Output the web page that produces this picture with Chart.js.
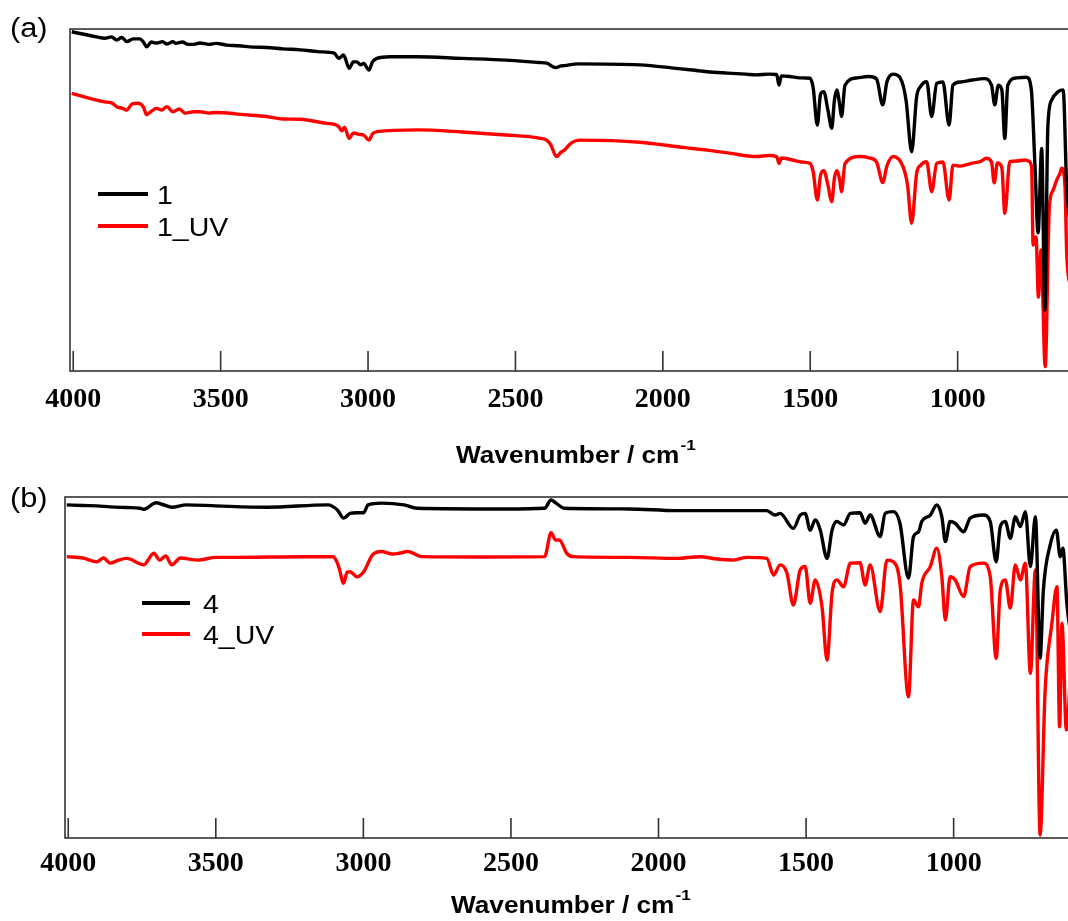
<!DOCTYPE html>
<html>
<head>
<meta charset="utf-8">
<script src="https://cdn.jsdelivr.net/npm/chart.js@4.4.0/dist/chart.umd.min.js"></script>
<style>
  html, body { margin: 0; padding: 0; background: #fff; overflow: hidden; }
  #wrap { position: relative; width: 1068px; height: 921px; overflow: hidden; }
  canvas { position: absolute; left: 0; top: 0; }
  .txt { position: absolute; font-family: "Liberation Sans", Arial, sans-serif; color: #000;
         white-space: nowrap; transform-origin: 0 0; transform: scaleX(1.14); }
  .panel { font-size: 27px; line-height: 27px; }
  .axt { font-size: 23px; line-height: 23px; font-weight: bold; }
  .axt span { font-size: 15px; position: relative; top: -13px; margin-left: 1px; }
  .leg { font-size: 25px; line-height: 25px; }
  .sw { position: absolute; height: 4px; }
</style>
</head>
<body>
<div id="wrap">
  <canvas id="chartA" width="1120" height="921"></canvas>
  <canvas id="chartB" width="1120" height="921"></canvas>

  <div class="txt panel" style="left:10px; top:15px;">(a)</div>
  <div class="txt panel" style="left:10px; top:485px;">(b)</div>

  <div class="txt axt" style="left:456px; top:444px;">Wavenumber / cm<span>-1</span></div>
  <div class="txt axt" style="left:451px; top:894px;">Wavenumber / cm<span>-1</span></div>

  <div id="legA"></div>
  <div id="legB"></div>
</div>

<script>
// x tick labels (wavenumber, cm-1)
var xTicks = [4000, 3500, 3000, 2500, 2000, 1500, 1000];

// (a) sample 1
var wn1 = [4005, 3921, 3894, 3870, 3853, 3835, 3818, 3797, 3774, 3762, 3751, 3735, 3717, 3697, 3682, 3662, 3652, 3630, 3610, 3591,
  3570, 3540, 3516, 3480, 3439, 3389, 3344, 3289, 3231, 3170, 3136, 3114, 3099, 3083, 3064, 3050, 3038, 3025, 3015, 2997,
  2985, 2970, 2926, 2834, 2682, 2532, 2420, 2394, 2364, 2345, 2334, 2288, 2078, 1956, 1900, 1850, 1780, 1720, 1684, 1640,
  1614, 1606, 1598, 1560, 1530, 1501, 1490, 1476, 1465, 1454, 1440, 1427, 1418, 1410, 1400, 1394, 1382, 1340, 1300, 1275,
  1254, 1240, 1219, 1195, 1175, 1156, 1139, 1125, 1105, 1088, 1071, 1050, 1029, 1016, 990, 950, 910, 885, 874, 862,
  850, 840, 830, 800, 766, 750, 738, 727, 715, 704, 694, 681, 659, 642, 630, 615];
var t1 = [99.2, 97.7, 97.3, 97.7, 96.8, 97.5, 96.3, 97.1, 97.1, 96.2, 94.8, 96.2, 95.9, 96.3, 95.6, 96.3, 95.8, 96.2, 95.5, 95.5,
  95.9, 95.5, 95.8, 95.3, 95.1, 94.7, 94.6, 94.2, 93.9, 93.4, 93.2, 92.9, 91.4, 92.4, 88.5, 90.4, 90.4, 89.5, 89.9, 88.0,
  90.4, 91.4, 91.9, 91.9, 91.4, 90.9, 90.2, 90.0, 88.7, 89.2, 89.3, 89.8, 89.5, 88.5, 88.0, 87.5, 87.1, 86.8, 86.6, 86.8,
  86.7, 83.6, 86.3, 86.0, 85.7, 85.6, 82.8, 71.9, 81.0, 81.7, 76.3, 71.0, 79.2, 82.2, 77.8, 74.4, 83.6, 85.7, 86.1, 85.4,
  77.8, 84.5, 86.8, 85.7, 79.2, 64.1, 80.2, 83.3, 84.6, 74.4, 84.1, 84.5, 71.9, 83.6, 84.5, 85.1, 85.5, 83.6, 77.8, 83.6,
  82.2, 68.0, 83.6, 85.7, 85.9, 82.2, 60.7, 40.4, 65.1, 17.8, 71.4, 79.2, 81.7, 82.2, 53.9, 41.2];

// (a) sample 1 after UV
var wn1uv = [4005, 3921, 3894, 3870, 3853, 3833, 3819, 3800, 3780, 3762, 3751, 3743, 3717, 3700, 3682, 3662, 3640, 3620, 3591, 3570,
  3540, 3516, 3458, 3439, 3344, 3289, 3231, 3140, 3114, 3099, 3089, 3080, 3064, 3050, 3031, 3015, 2997, 2985, 2970, 2834,
  2682, 2532, 2420, 2394, 2380, 2361, 2345, 2334, 2310, 2281, 2078, 1925, 1850, 1774, 1684, 1640, 1614, 1606, 1598, 1560,
  1530, 1501, 1490, 1476, 1465, 1454, 1440, 1427, 1418, 1410, 1400, 1394, 1382, 1331, 1300, 1275, 1254, 1240, 1219, 1185,
  1170, 1156, 1139, 1125, 1105, 1088, 1071, 1050, 1029, 1016, 992, 950, 924, 902, 885, 876, 865, 850, 840, 823,
  800, 772, 760, 749, 744, 734, 726, 717, 703, 689, 676, 664, 653, 647, 636, 630, 615];
var t1uv = [81.2, 79.2, 78.7, 78.4, 77.3, 76.8, 76.3, 78.1, 78.3, 77.2, 74.9, 75.4, 76.8, 76.3, 77.3, 75.8, 76.6, 75.4, 75.8, 75.8,
  75.4, 75.6, 75.3, 75.1, 74.4, 73.7, 73.6, 72.4, 72.1, 71.4, 70.2, 71.3, 68.0, 69.6, 69.2, 69.0, 67.5, 69.3, 70.0, 70.5,
  69.9, 69.0, 68.1, 67.5, 66.1, 62.7, 64.0, 64.6, 66.7, 67.5, 66.9, 65.3, 64.6, 63.7, 62.7, 63.0, 62.7, 60.7, 62.3, 61.7,
  61.1, 60.7, 58.2, 50.0, 57.3, 58.6, 54.4, 49.5, 56.4, 58.6, 55.8, 52.4, 60.7, 62.7, 62.3, 61.1, 55.1, 59.9, 62.7, 59.7,
  54.4, 43.2, 57.8, 60.2, 61.2, 52.4, 60.7, 61.1, 50.0, 60.2, 59.9, 60.8, 61.2, 62.2, 61.1, 55.0, 60.8, 59.4, 46.1, 61.2,
  61.4, 61.7, 61.4, 59.7, 36.8, 39.2, 21.6, 35.4, 1.3, 47.7, 52.9, 55.8, 57.8, 59.3, 54.4, 34.4, 23.7];

// (b) sample 4
var wn4 = [4005, 3950, 3903, 3858, 3802, 3757, 3745, 3712, 3702, 3680, 3649, 3600, 3500, 3327, 3120, 3088, 3067, 3045, 3022, 2999,
  2984, 2939, 2863, 2818, 2516, 2386, 2364, 2349, 2318, 2100, 1940, 1859, 1758, 1669, 1633, 1605, 1588, 1543, 1520, 1503,
  1486, 1469, 1452, 1429, 1412, 1396, 1373, 1350, 1317, 1300, 1283, 1249, 1232, 1204, 1182, 1153, 1136, 1119, 1108, 1079,
  1057, 1040, 1028, 1012, 995, 966, 944, 899, 876, 856, 842, 825, 808, 791, 774, 757, 740, 723, 707, 696,
  673, 652, 639, 630, 616, 600];
var t4 = [97.7, 97.5, 97.4, 97.1, 96.9, 96.7, 96.4, 98.0, 98.3, 97.8, 97.0, 97.7, 97.4, 97.0, 97.7, 96.2, 93.8, 95.2, 95.4, 95.4,
  97.7, 98.2, 97.7, 96.7, 96.5, 96.7, 99.1, 98.3, 96.7, 96.5, 96.0, 96.0, 96.0, 96.0, 96.0, 94.7, 95.2, 90.8, 94.7, 95.2,
  90.3, 93.3, 90.3, 82.0, 90.3, 92.8, 91.8, 95.2, 95.4, 92.3, 94.7, 88.4, 95.2, 95.7, 92.3, 76.2, 88.4, 89.8, 92.8, 94.7,
  97.7, 94.2, 86.9, 92.8, 92.3, 89.8, 93.8, 94.7, 92.8, 81.0, 91.3, 92.8, 87.9, 94.2, 91.3, 95.7, 79.6, 94.2, 52.7, 72.7,
  85.9, 90.3, 82.5, 85.0, 68.3, 58.1];

// (b) sample 4 after UV
var wn4uv = [4005, 3950, 3903, 3880, 3858, 3830, 3802, 3757, 3745, 3710, 3690, 3670, 3649, 3620, 3560, 3500, 3440, 3200, 3102, 3090,
  3082, 3067, 3055, 3045, 3022, 2999, 2969, 2939, 2900, 2879, 2850, 2802, 2600, 2386, 2364, 2349, 2336, 2311, 2288, 2100,
  1940, 1859, 1800, 1746, 1700, 1633, 1610, 1588, 1565, 1543, 1520, 1503, 1486, 1469, 1446, 1429, 1412, 1396, 1373, 1350,
  1317, 1300, 1283, 1249, 1226, 1204, 1182, 1153, 1136, 1119, 1108, 1079, 1057, 1040, 1028, 1012, 995, 966, 944, 899,
  876, 856, 842, 825, 808, 791, 774, 757, 740, 723, 707, 690, 667, 650, 641, 633, 618, 600];
var t4uv = [82.5, 82.1, 81.0, 82.1, 80.6, 81.5, 82.0, 80.4, 80.1, 83.5, 81.5, 82.7, 80.1, 82.1, 81.5, 82.3, 82.3, 82.5, 82.5, 81.0,
  79.1, 74.7, 78.0, 78.1, 76.6, 78.1, 83.0, 84.0, 83.3, 83.5, 84.0, 82.5, 82.4, 82.5, 89.5, 87.4, 87.4, 83.5, 82.5, 82.3,
  82.0, 82.5, 81.8, 81.5, 82.3, 82.0, 77.1, 80.1, 77.7, 68.3, 78.6, 79.6, 68.8, 75.7, 67.8, 52.2, 71.8, 75.7, 73.7, 80.6,
  80.7, 74.2, 80.1, 66.4, 81.5, 81.0, 74.7, 41.4, 69.8, 67.8, 74.7, 79.6, 85.0, 76.6, 63.9, 76.6, 75.7, 70.8, 79.6, 80.6,
  76.6, 52.7, 72.7, 75.7, 67.4, 80.1, 75.7, 80.6, 48.3, 78.6, 0.9, 43.4, 63.0, 73.7, 32.6, 63.0, 31.7, 55.1];

function pairs(xs, ys) {
  return xs.map(function (x, i) { return { x: x, y: ys[i] }; });
}

// box round the plot plus inward tick marks on the bottom axis
var framePlugin = {
  id: 'frame',
  beforeDatasetsDraw: function (chart) {
    var ctx = chart.ctx, a = chart.chartArea, xs = chart.scales.x;
    ctx.save();
    ctx.strokeStyle = '#333';
    ctx.lineWidth = 1.6;
    ctx.strokeRect(a.left, a.top, a.right - a.left, a.bottom - a.top);
    ctx.beginPath();
    xs.ticks.forEach(function (t) {
      var px = xs.getPixelForValue(t.value);
      ctx.moveTo(px, a.bottom);
      ctx.lineTo(px, a.bottom - 20);
    });
    ctx.stroke();
    ctx.restore();
  }
};

function makePanel(id, p, series) {
  var ctx = document.getElementById(id).getContext('2d');
  return new Chart(ctx, {
    type: 'line',
    data: {
      datasets: series.map(function (s) {
        return {
          label: s.label,
          data: pairs(s.x, s.y),
          borderColor: s.color,
          borderWidth: 3.4,
          pointRadius: 0,
          fill: false,
          cubicInterpolationMode: 'monotone'
        };
      })
    },
    options: {
      responsive: false,
      animation: false,
      events: [],
      layout: { padding: { left: p.left, top: p.top, right: 1120 - p.right, bottom: 0 } },
      plugins: { legend: { display: false }, tooltip: { enabled: false } },
      scales: {
        x: {
          type: 'linear',
          reverse: true,
          min: p.min,
          max: p.max,
          grid: { display: false, drawTicks: false },
          border: { display: false },
          afterBuildTicks: function (s) { s.ticks = xTicks.map(function (v) { return { value: v }; }); },
          afterFit: function (s) { s.height = 921 - p.bottom; },
          ticks: {
            padding: p.tickPad,
            color: '#000',
            maxRotation: 0,
            font: { family: '"Liberation Serif", "Times New Roman", serif', weight: 'bold', size: 28 },
            callback: function (v) { return String(v); }
          }
        },
        y: { display: false, min: 0, max: 100 }
      }
    },
    plugins: [framePlugin]
  });
}

function makeLegend(id, p, series) {
  var box = document.getElementById(id);
  series.forEach(function (s, i) {
    var y = p.legY[i];
    var sw = document.createElement('div');
    sw.className = 'sw';
    sw.style.left = p.legX + 'px';
    sw.style.width = p.legW + 'px';
    sw.style.top = (y - 2) + 'px';
    sw.style.background = s.color;
    box.appendChild(sw);
    var t = document.createElement('div');
    t.className = 'txt leg';
    t.style.left = p.legTx + 'px';
    t.style.top = (y - 11) + 'px';
    t.textContent = s.label;
    box.appendChild(t);
  });
}

var seriesA = [
  { label: '1', x: wn1, y: t1, color: '#000000' },
  { label: '1_UV', x: wn1uv, y: t1uv, color: '#ff0000' }
];
var seriesB = [
  { label: '4', x: wn4, y: t4, color: '#000000' },
  { label: '4_UV', x: wn4uv, y: t4uv, color: '#ff0000' }
];

var panelA = { left: 70, top: 29, right: 1090, bottom: 371, min: 551, max: 4011, tickPad: 12,
  legX: 98, legW: 50, legTx: 157, legY: [194, 226] };
var panelB = { left: 65, top: 497, right: 1090, bottom: 838, min: 538, max: 4011, tickPad: 9,
  legX: 142, legW: 48, legTx: 203, legY: [603, 634] };

makePanel('chartA', panelA, seriesA);
makePanel('chartB', panelB, seriesB);
makeLegend('legA', panelA, seriesA);
makeLegend('legB', panelB, seriesB);
</script>
</body>
</html>
